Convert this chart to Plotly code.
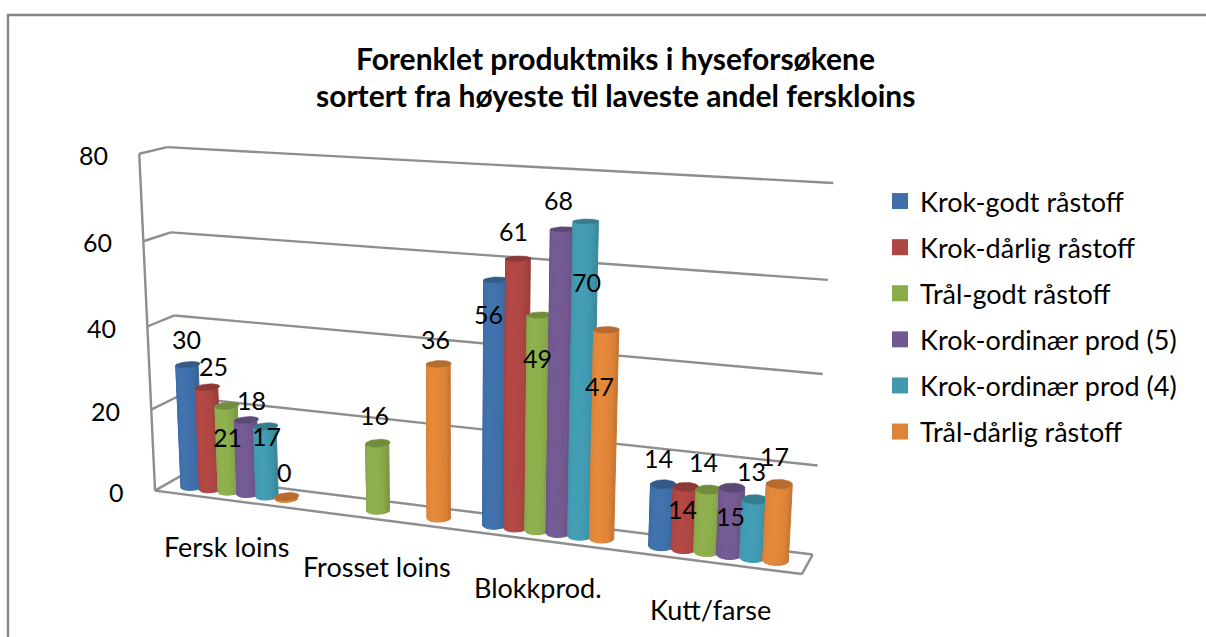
import numpy as np
import plotly.graph_objects as go

# ---------- data ----------
categories = ["Fersk loins", "Frosset loins", "Blokkprod.", "Kutt/farse"]
series_names = ["Krok-godt råstoff", "Krok-dårlig råstoff", "Trål-godt råstoff",
                "Krok-ordinær prod (5)", "Krok-ordinær prod (4)", "Trål-dårlig råstoff"]
krok_godt = [30, None, 56, 14]
krok_darlig = [25, None, 61, 14]
tral_godt = [21, 16, 49, 14]
krok_ord5 = [18, None, 68, 15]
krok_ord4 = [17, None, 70, 13]
tral_darlig = [0, 36, 47, 17]
y_ticks = [0, 20, 40, 60, 80]
title_lines = ["Forenklet produktmiks i hyseforsøkene",
               "sortert fra høyeste til laveste andel fersk" + "loins"]
all_series = [krok_godt, krok_darlig, tral_godt, krok_ord5, krok_ord4, tral_darlig]

# ---------- styles ----------
colors = ["#3f6fa8", "#ad4643", "#8aab4b", "#71588f", "#4198af", "#dd8439"]
FONT = "Lato"
GRID = "#8e8e8e"
W, H = 1206, 637

# ---------- 3D view of the Excel-style chart box ----------
# (u along categories 0..1, v depth 0..1, w value 0..80) -> page pixel
calibration = [
    ((0, 0, 0), (155, 490)), ((0, 1, 0), (180, 477)), ((1, 0, 0), (802, 575)), ((1, 1, 0), (812, 554)),
    ((0, 1, 80), (168, 147)), ((1, 1, 80), (833, 183)), ((0, 0, 80), (137, 154)),
    ((0, 1, 60), (172, 232)), ((1, 1, 60), (828, 280)), ((0, 0, 60), (143, 242)),
    ((0, 1, 40), (175, 315)), ((1, 1, 40), (823, 374)), ((0, 0, 40), (148, 327)),
    ((0, 1, 20), (177, 397)), ((1, 1, 20), (818, 465)), ((0, 0, 20), (153, 408)),
]
rows = []
for (u, v, w), (px, py) in calibration:
    p = [u, v, w / 80.0, 1]
    rows.append(p + [0, 0, 0, 0] + [-px * c for c in p])
    rows.append([0, 0, 0, 0] + p + [-py * c for c in p])
_, _, vt = np.linalg.svd(np.array(rows, float))
P = vt[-1].reshape(3, 4)


def project(u, v, w):
    q = P @ np.array([u, v, w / 80.0, 1.0])
    return q[0] / q[2], q[1] / q[2]


def shade(hex_color, f):
    r, g, b = [int(hex_color[i:i + 2], 16) for i in (1, 3, 5)]
    return "rgb(%d,%d,%d)" % tuple(min(255, int(c * f)) for c in (r, g, b))


fig = go.Figure()


def line3d(a, b, width=2.4):
    x0, y0 = project(*a)
    x1, y1 = project(*b)
    fig.add_trace(go.Scatter(x=[x0, x1], y=[y0, y1], mode="lines", showlegend=False, hoverinfo="skip",
                             line=dict(color=GRID, width=width)))


# walls and floor
for t in y_ticks:
    line3d((0, 1, t), (1, 1, t))
    line3d((0, 0, t), (0, 1, t))
line3d((0, 0, 0), (0, 0, 80))
line3d((0, 0, 0), (1, 0, 0))
line3d((1, 0, 0), (1, 1, 0))

# cylinders
BAR_STEP = 0.0325
RU = 0.0175
RV = 0.26
DEPTH = 0.5
cat_u = [0.125, 0.375, 0.625, 0.875]
N = 10
thetas = np.linspace(np.pi, 2 * np.pi, N + 1)  # front half of each cylinder


def strip_factor(t):
    s = (t - np.pi) / np.pi
    return 0.84 + 0.2 * np.sin(np.pi * s) ** 0.6


for si, values in enumerate(all_series):
    color = colors[si]
    for ci, val in enumerate(values):
        if val is None:
            continue
        uc = cat_u[ci] + (si - 2.5) * BAR_STEP
        top = max(val, 0.35)
        for k in range(N):
            t0, t1 = thetas[k], thetas[k + 1]
            pts = [(uc + RU * np.cos(t0), DEPTH + RV * np.sin(t0), 0), (uc + RU * np.cos(t1), DEPTH + RV * np.sin(t1), 0),
                   (uc + RU * np.cos(t1), DEPTH + RV * np.sin(t1), top), (uc + RU * np.cos(t0), DEPTH + RV * np.sin(t0), top)]
            xy = [project(*p) for p in pts]
            f = shade(color, strip_factor((t0 + t1) / 2))
            fig.add_trace(go.Scatter(x=[p[0] for p in xy] + [xy[0][0]], y=[p[1] for p in xy] + [xy[0][1]],
                                     mode="lines", fill="toself", fillcolor=f, line=dict(color=f, width=1),
                                     showlegend=False, hoverinfo="skip", legendgroup=series_names[si]))
        ring = np.linspace(0, 2 * np.pi, 37)
        xy = [project(uc + RU * np.cos(t), DEPTH + RV * np.sin(t), top) for t in ring]
        cap = shade(color, 0.82)
        fig.add_trace(go.Scatter(x=[p[0] for p in xy], y=[p[1] for p in xy], mode="lines", fill="toself",
                                 fillcolor=cap, line=dict(color=cap, width=0.5), showlegend=False,
                                 hoverinfo="skip", legendgroup=series_names[si]))

# legend entries
for si, name in enumerate(series_names):
    fig.add_trace(go.Scatter(x=[None], y=[None], mode="markers", name=name, legendgroup=name,
                             marker=dict(symbol="square", size=16, color=colors[si])))

# data labels: offset from the top of each bar, in pixels
label_shift = {
    (0, 0): (-3, -26), (1, 0): (5, -21), (2, 0): (0, 31), (3, 0): (5, -20), (4, 0): (2, 10), (5, 0): (-1, -26),
    (2, 1): (-4, -28), (5, 1): (-2, -25),
    (0, 2): (-10, 34), (1, 2): (-6, -28), (2, 2): (-3, 43), (3, 2): (-5, -29), (4, 2): (1, 61), (5, 2): (-5, 56),
    (0, 3): (-7, -27), (1, 3): (-5, 22), (2, 3): (-6, -28), (3, 3): (-1, 28), (4, 3): (-2, -28), (5, 3): (-3, -28),
}
annots = []
for si, values in enumerate(all_series):
    for ci, val in enumerate(values):
        if val is None:
            continue
        x, y = project(cat_u[ci] + (si - 2.5) * 0.0315, DEPTH, val)
        dx, dy = label_shift[(si, ci)]
        annots.append(dict(x=x, y=y, xshift=dx, yshift=-dy, text=str(val), showarrow=False,
                           font=dict(family=FONT, size=25, color="black")))

# value axis labels
for t in y_ticks:
    x, y = project(0, 0, t)
    annots.append(dict(x=x, y=y, xshift=-29, yshift=-1, xanchor="right", text=str(t), showarrow=False,
                       font=dict(family=FONT, size=25, color="black")))

# category labels, below the front edge
for ci, c in enumerate(categories):
    x, y = project(cat_u[ci], 0, 0)
    annots.append(dict(x=x, y=y, xshift=-1, yshift=-47, text=c, showarrow=False,
                       font=dict(family=FONT, size=27, color="black")))

# title
for line, ty in zip(title_lines, (58, 95)):
    annots.append(dict(xref="paper", yref="paper", x=615 / W, y=1 - ty / H, yanchor="middle", xanchor="center",
                       text="<b>%s</b>" % line, showarrow=False, align="center",
                       font=dict(family=FONT, size=30, color="black")))

fig.update_layout(
    width=W, height=H, margin=dict(l=0, r=0, t=0, b=0), paper_bgcolor="white", plot_bgcolor="white",
    xaxis=dict(range=[0, W], visible=False, fixedrange=True),
    yaxis=dict(range=[H, 0], visible=False, fixedrange=True),
    annotations=annots,
    legend=dict(x=880 / W, y=1 - 177 / H, xanchor="left", yanchor="top", font=dict(family=FONT, size=27, color="black"),
                tracegroupgap=8, itemclick=False, itemdoubleclick=False, bgcolor="rgba(0,0,0,0)"),
    shapes=[dict(type="rect", xref="x", yref="y", x0=8, y0=15, x1=1230, y1=680, line=dict(color="#868686", width=2.4), layer="below")],
)
fig.write_html("out.html", config=dict(displayModeBar=False), post_script="document.body.style.margin='0';")
